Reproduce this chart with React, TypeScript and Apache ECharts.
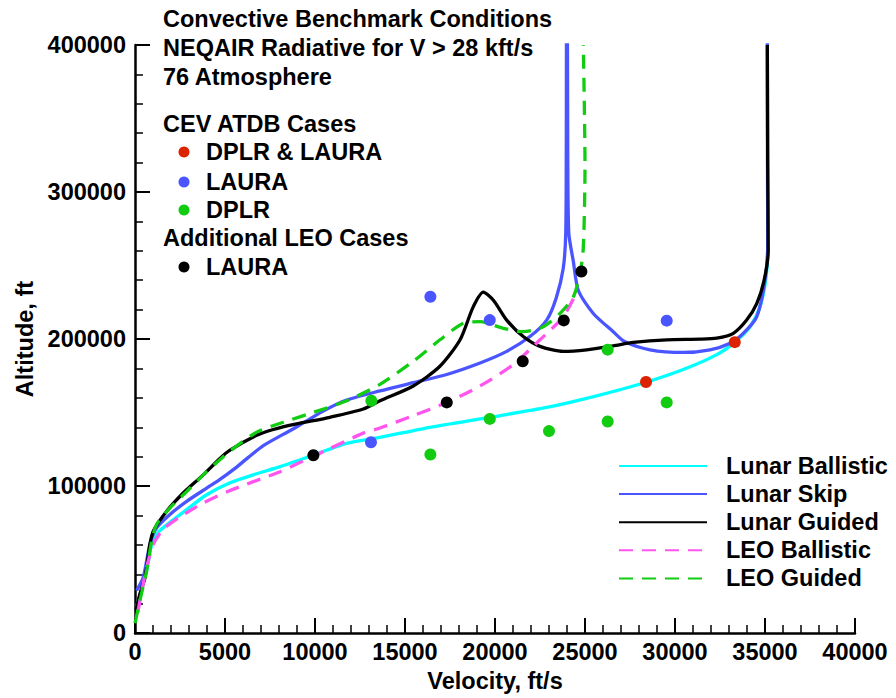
import React, { useEffect, useRef } from "react";
import * as echarts from "echarts";

const FONT = '"Liberation Sans", Arial, Helvetica, sans-serif';
const FS = 23.5;

const xTicks = { min: 0, max: 40000, interval: 5000 };
const yTicks = { min: 0, max: 400000, interval: 100000 };

const lunarBallistic: [number, number][] = [
  [90, 18000], [183, 22400], [650, 42600], [930, 60500], [1290, 68600], [1940, 75300],
  [2870, 84000], [3980, 94100], [5280, 102200], [6560, 107600], [8060, 113200],
  [9890, 121000], [11760, 129100], [13610, 133100], [16390, 140000], [19720, 146800],
  [22870, 153500], [25650, 161400], [28060, 169400], [30460, 179300], [32320, 189400],
  [33320, 197900], [34170, 208400], [34720, 221900], [35060, 242000], [35150, 262000],
  [35140, 320000], [35130, 400000],
];

const lunarSkip: [number, number][] = [
  [90, 29000], [460, 38000], [830, 60500], [1210, 71700], [1940, 80700], [2870, 89600],
  [3980, 98600], [4720, 104500], [5500, 111500], [6300, 119500], [7130, 127500],
  [8800, 139000], [10460, 151000], [11760, 158500], [13610, 164700], [15460, 170300],
  [17320, 175900], [19170, 183700], [20650, 191600], [21940, 201700], [22870, 212900],
  [23400, 228000], [23790, 248000], [23930, 272000], [23960, 330000], [23980, 420000],
  [24020, 420000], [24040, 330000], [24100, 272000], [24350, 253000], [24630, 233000],
  [25460, 217400], [26570, 205000], [27200, 198300], [28610, 192700], [30460, 190900],
  [31940, 192700], [33060, 197200], [33790, 203900], [34540, 215100], [35000, 240000],
  [35150, 265000], [35140, 330000], [35130, 420000],
];

const lunarGuided: [number, number][] = [
  [56, 15700], [280, 26900], [560, 38100], [830, 60500], [1020, 69500], [1760, 82900],
  [2680, 95300], [3790, 107600], [4720, 118800], [5280, 124400], [6760, 134500],
  [7680, 138500], [8980, 142300], [10830, 146800], [12680, 152400], [13610, 158000],
  [15460, 168100], [16940, 181500], [18060, 199500], [18790, 221900], [19350, 231900],
  [19910, 226400], [20650, 212900], [21570, 201700], [22500, 195000], [23790, 191600],
  [25090, 192700], [26570, 195400], [27680, 197700], [29540, 199500], [31390, 199900],
  [32320, 200600], [33240, 203900], [33980, 212900], [34540, 224100], [34950, 240000],
  [35180, 260000], [35150, 320000], [35130, 400000],
];

const leoBallistic: [number, number][] = [
  [150, 14000], [280, 22400], [650, 44800], [1020, 60500], [1570, 70600], [2500, 79000],
  [3790, 88500], [5090, 96000], [6570, 103000], [8060, 109800], [9540, 118200],
  [10830, 125500], [12680, 136000], [13610, 139500], [15460, 147900], [17320, 156900],
  [19170, 168100], [21020, 182700], [22500, 199500], [23790, 215100], [24500, 231000],
];

const leoGuided: [number, number][] = [
  [0, 6700], [278, 22400], [650, 42600], [928, 62700], [1206, 74000], [1944, 85200],
  [2872, 96300], [3983, 109800], [5278, 123800], [6761, 136700], [8239, 143400],
  [9906, 150100], [11761, 158000], [13611, 169200], [15461, 184900], [16944, 199500],
  [18239, 210700], [19167, 211800], [20461, 207300], [21572, 205000], [22683, 208400],
  [23611, 217400], [24350, 228600], [24722, 244300], [24906, 262200], [25000, 318000],
  [24906, 400000],
];

const casesBoth: [number, number][] = [[28390, 170800], [33320, 197900]];
const casesLaura: [number, number][] = [[13110, 129800], [16410, 228800], [19710, 212900], [29540, 212500]];
const casesDplr: [number, number][] = [
  [13130, 158000], [16410, 121500], [19710, 145700], [23000, 137400], [26260, 143900],
  [26260, 192800], [29540, 156900],
];
const casesLeoLaura: [number, number][] = [
  [9910, 121000], [17320, 156900], [21540, 184900], [23820, 212700], [24800, 245900],
];

const lineNames = ["Lunar Ballistic", "Lunar Skip", "Lunar Guided", "LEO Ballistic", "LEO Guided"];
const annotationLines = [
  "Convective Benchmark Conditions",
  "NEQAIR Radiative for V > 28 kft/s",
  "76 Atmosphere",
];

const C_CYAN = "#00ffff";
const C_BLUE = "#4a55ff";
const C_MAG = "#ff55ee";
const C_GREEN = "#11cc11";
const C_RED = "#dd2200";

export default function App() {
  const ref = useRef<HTMLDivElement>(null);
  useEffect(() => {
    if (!ref.current) return;
    const chart = echarts.init(ref.current, null, { renderer: "svg" });
    const textFont = `bold ${FS}px ${FONT}`;
    const txt = (text: string, x: number, y: number) => ({
      type: "text",
      x,
      y,
      style: { text, font: textFont, fill: "#000", textVerticalAlign: "middle", verticalAlign: "middle" },
      z: 10,
    });
    const dot = (x: number, y: number, color: string) => ({
      type: "circle",
      shape: { cx: x, cy: y, r: 5.5 },
      style: { fill: color },
      z: 10,
    });
    const lineSeries = (name: string, data: [number, number][], color: string, dashed: boolean, z: number) => ({
      name,
      type: "line",
      data,
      smooth: 0.25,
      symbol: "none",
      showSymbol: false,
      z,
      lineStyle: { color, width: 3.3, type: dashed ? [14, 9] : "solid" },
      itemStyle: { color },
    });
    const scatter = (name: string, data: [number, number][], color: string) => ({
      name,
      type: "scatter",
      data,
      symbol: "circle",
      symbolSize: 12,
      itemStyle: { color, opacity: 1 },
      z: 20,
    });
    const axisText = { fontSize: FS, fontWeight: "bold", color: "#000", fontFamily: FONT };
    chart.setOption({
      animation: false,
      backgroundColor: "#fff",
      textStyle: { fontFamily: FONT },
      grid: { left: 135, right: 41, top: 45, bottom: 58 },
      xAxis: {
        type: "value",
        ...xTicks,
        name: "Velocity, ft/s",
        nameLocation: "middle",
        nameGap: 31,
        nameTextStyle: axisText,
        axisLine: { show: true, lineStyle: { color: "#000", width: 2.5 } },
        axisTick: { show: true, inside: true, length: 15, lineStyle: { color: "#000", width: 2 } },
        minorTick: { show: true, splitNumber: 5, length: 8, lineStyle: { color: "#000", width: 1.5 } },
        splitLine: { show: false },
        axisLabel: { ...axisText, margin: 7, formatter: (v: number) => String(v) },
      },
      yAxis: {
        type: "value",
        ...yTicks,
        name: "Altitude, ft",
        nameLocation: "middle",
        nameGap: 92,
        nameTextStyle: axisText,
        axisLine: { show: true, lineStyle: { color: "#000", width: 2.5 } },
        axisTick: { show: true, inside: true, length: 15, lineStyle: { color: "#000", width: 2 } },
        minorTick: { show: true, splitNumber: 5, length: 8, lineStyle: { color: "#000", width: 1.5 } },
        splitLine: { show: false },
        axisLabel: { ...axisText, margin: 9, formatter: (v: number) => String(v) },
      },
      legend: {
        data: lineNames,
        orient: "vertical",
        left: 613,
        top: 449,
        itemWidth: 88,
        itemHeight: 14,
        itemGap: 4.1,
        itemStyle: { opacity: 0, borderWidth: 0 },
        formatter: (n: string) => `{a|${n}}`,
        textStyle: {
          ...axisText,
          lineHeight: FS,
          rich: { a: { ...axisText, lineHeight: FS, padding: [0, 0, 0, 14] } },
        },
      },
      series: [
        lineSeries(lineNames[0], lunarBallistic, C_CYAN, false, 2),
        lineSeries(lineNames[1], lunarSkip, C_BLUE, false, 3),
        lineSeries(lineNames[2], lunarGuided, "#000", false, 4),
        lineSeries(lineNames[3], leoBallistic, C_MAG, true, 5),
        lineSeries(lineNames[4], leoGuided, C_GREEN, true, 6),
        scatter("DPLR & LAURA", casesBoth, C_RED),
        scatter("LAURA", casesLaura, C_BLUE),
        scatter("DPLR", casesDplr, C_GREEN),
        scatter("LEO LAURA", casesLeoLaura, "#000"),
      ],
      graphic: [
        txt(annotationLines[0], 163, 19),
        txt(annotationLines[1], 163, 48),
        txt(annotationLines[2], 163, 77),
        txt("CEV ATDB Cases", 163, 124),
        dot(184, 152, C_RED),
        txt("DPLR & LAURA", 206, 152),
        dot(184, 182, C_BLUE),
        txt("LAURA", 206, 182),
        dot(184, 210, C_GREEN),
        txt("DPLR", 206, 210),
        txt("Additional LEO Cases", 163, 238),
        dot(184, 267, "#000"),
        txt("LAURA", 206, 267),
      ],
    });
    return () => chart.dispose();
  }, []);
  return (
    <div
      ref={ref}
      style={{ position: "absolute", left: 0, top: 0, width: 896, height: 698 }}
    />
  );
}
